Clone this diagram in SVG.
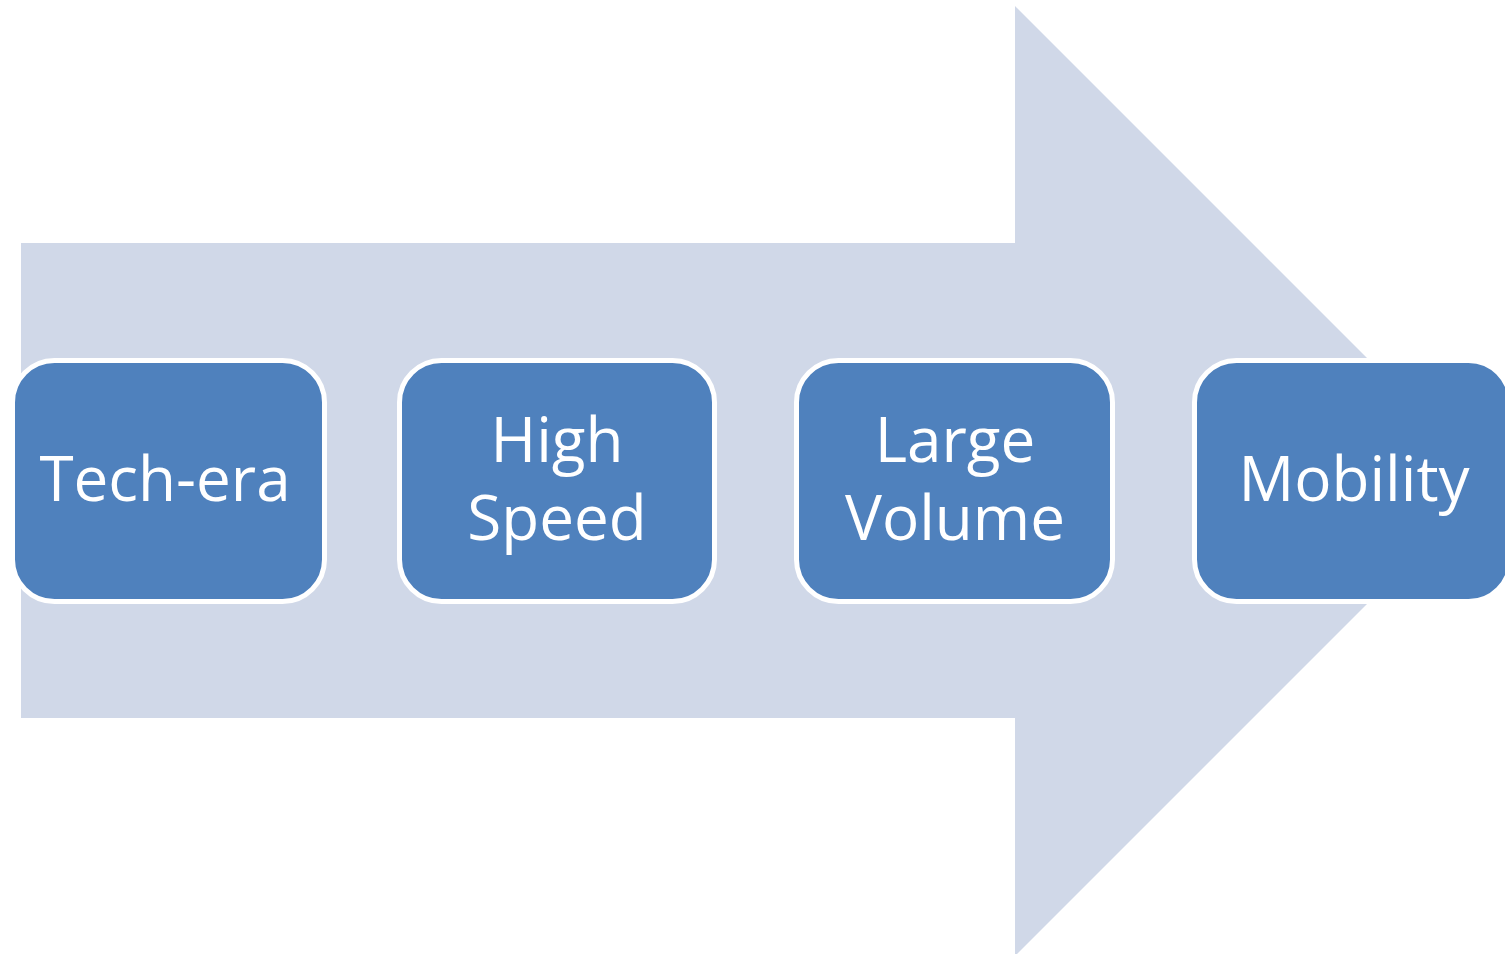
<svg xmlns="http://www.w3.org/2000/svg" width="1505" height="954" viewBox="0 0 1505 954">
<style>
.box{fill:#4F81BD;stroke:#FFFFFF;stroke-width:5}
.lbl{font-family:"Open Sans","Noto Sans",sans-serif;font-size:62px;fill:#FFFFFF;text-anchor:middle}
</style>
<rect width="1505" height="954" fill="#FFFFFF"/>
<g id="connectors">
<polygon points="21,243 1015,243 1015,6 1490,481 1015,956 1015,718 21,718" fill="#D0D8E8"/>
</g>
<g id="node1">
<rect class="box" x="12.5" y="360.5" width="312" height="241" rx="42"/>
<text class="lbl" x="165" y="501">Tech-era</text>
</g>
<g id="node2">
<rect class="box" x="399.5" y="360.5" width="315" height="241" rx="42"/>
<text class="lbl" x="557" y="462">High</text>
<text class="lbl" x="557" y="540">Speed</text>
</g>
<g id="node3">
<rect class="box" x="796.5" y="360.5" width="316" height="241" rx="42"/>
<text class="lbl" x="955" y="462">Large</text>
<text class="lbl" x="955" y="540">Volume</text>
</g>
<g id="node4">
<rect class="box" x="1194.5" y="360.5" width="316" height="241" rx="42"/>
<text class="lbl" x="1354" y="501">Mobility</text>
</g>
</svg>
